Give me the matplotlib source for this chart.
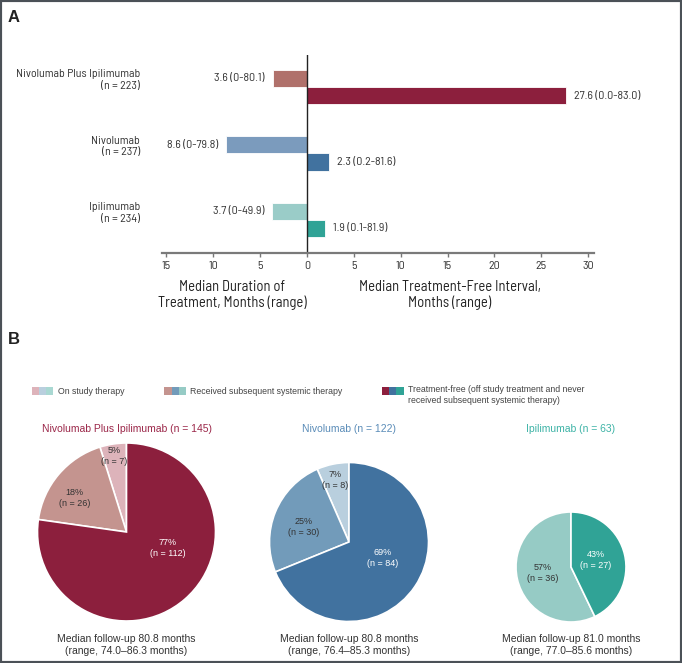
import matplotlib.pyplot as plt
import matplotlib.patches as patches
import numpy as np

W, H = 682, 663

# ---- panel A data ----
groups = ['Nivolumab Plus Ipilimumab\n(n = 223)', 'Nivolumab\n(n = 237)', 'Ipilimumab\n(n = 234)']
duration = [3.6, 8.6, 3.7]
duration_range = ['0-80.1', '0-79.8', '0-49.9']
tfi = [27.6, 2.3, 1.9]
tfi_range = ['0.0-83.0', '0.2-81.6', '0.1-81.9']
x_ticks = [-15, -10, -5, 0, 5, 10, 15, 20, 25, 30]

# ---- panel B data ----
arms = ['Nivolumab Plus Ipilimumab', 'Nivolumab', 'Ipilimumab']
arm_n = [145, 122, 63]
on_study = [7, 8, 0]
received = [26, 30, 36]
treatment_free = [112, 84, 27]
followup_median = [80.8, 80.8, 81.0]
followup_range = ['74.0–86.3', '76.4–85.3', '77.0–85.6']
legend_labels = ['On study therapy',
                 'Received subsequent systemic therapy',
                 'Treatment-free (off study treatment and never\nreceived subsequent systemic therapy)']

# colours
dur_colors = ['#B0716B', '#7B9BBD', '#9ACCC8']
tfi_colors = ['#8C1F3D', '#41729F', '#30A396']
on_colors = ['#DDB3BA', '#B9CFDE', '#A9D8D2']
rec_colors = ['#C4948F', '#729BBA', '#96CBC5']
free_colors = ['#8C1F3D', '#41729F', '#30A396']
title_colors = ['#9B2749', '#5A8CB8', '#3DB3A6']

narrow = ['Barlow Semi Condensed', 'DejaVu Sans']
regular = ['Liberation Sans', 'DejaVu Sans']
small = 8.6

fig = plt.figure(figsize=(W / 100, H / 100), dpi=100)

# ---------------- panel A ----------------
ax = fig.add_axes([162 / W, 1 - 253 / H, 432 / W, 198 / H])
y = np.arange(len(groups))
h = 0.26
ax.barh(y - h / 2, [-d for d in duration], height=h, color=dur_colors,
        edgecolor='white', linewidth=0.6)
ax.barh(y + h / 2, tfi, height=h, color=tfi_colors,
        edgecolor='white', linewidth=0.6)
ax.axvline(0, color='#222222', lw=1)

for i in range(len(groups)):
    ax.annotate(f'{duration[i]} ({duration_range[i]})', xy=(-duration[i], y[i] - h / 2),
                xytext=(-6, 0), textcoords='offset points', ha='right', va='center',
                fontsize=small, family=narrow, color='#333333')
    ax.annotate(f'{tfi[i]} ({tfi_range[i]})', xy=(tfi[i], y[i] + h / 2),
                xytext=(6, 0), textcoords='offset points', ha='left', va='center',
                fontsize=small, family=narrow, color='#333333')

ax.set_xlim(-15.48, 30.63)
ax.set_ylim(2.5, -0.48)
ax.set_xticks(x_ticks)
ax.set_xticklabels([str(abs(t)) for t in x_ticks], fontsize=small, family=narrow, color='#333333')
ax.set_yticks(y - h / 2)
ax.set_yticklabels(groups, fontsize=small, family=narrow, color='#333333')
ax.tick_params(axis='y', length=0, pad=16)
ax.tick_params(axis='x', length=3, width=1, color='#777777', pad=3)
for s in ['top', 'right', 'left']:
    ax.spines[s].set_visible(False)
ax.spines['bottom'].set_color('#7a7a7a')
ax.spines['bottom'].set_linewidth(1.6)

fig.text(232 / W, 1 - 295 / H, 'Median Duration of\nTreatment, Months (range)',
         ha='center', va='center', fontsize=10.5, family=narrow, color='#222222', linespacing=1.1)
fig.text(450 / W, 1 - 295 / H, 'Median Treatment-Free Interval,\nMonths (range)',
         ha='center', va='center', fontsize=10.5, family=narrow, color='#222222', linespacing=1.1)

fig.text(8 / W, 1 - 17 / H, 'A', fontsize=12, fontweight='bold', family=regular,
         color='#222222', va='center')
fig.text(8 / W, 1 - 340 / H, 'B', fontsize=12, fontweight='bold', family=regular,
         color='#222222', va='center')

# ---------------- panel B ----------------
bx = fig.add_axes([0, 0, 1, 1])
centers = [(126.5, 532), (349, 542), (571, 567)]
radii = [89, 79.5, 55]
label_pos = [[(-0.14, 0.85), (-0.58, 0.38), (0.46, -0.18)],
             [(-0.17, 0.78), (-0.57, 0.19), (0.42, -0.20)],
             [(-0.52, -0.11), (0.45, 0.13)]]

for i in range(len(arms)):
    counts = [on_study[i], received[i], treatment_free[i]]
    cols = [on_colors[i], rec_colors[i], free_colors[i]]
    keep = [k for k in range(3) if counts[k] > 0]
    vals = [counts[k] for k in keep]
    cx, cy = centers[i]
    r = radii[i]
    bx.pie(vals, colors=[cols[k] for k in keep], startangle=90,
           center=(cx, H - cy), radius=r,
           wedgeprops=dict(edgecolor='white', linewidth=1.2))
    for j, k in enumerate(keep):
        pct = round(100 * counts[k] / arm_n[i])
        dx, dy = label_pos[i][j]
        tc = 'white' if k == 2 else '#333333'
        bx.text(cx + dx * r, H - cy + dy * r, f'{pct}%\n(n = {counts[k]})',
                ha='center', va='center', fontsize=6.5, family=regular, color=tc,
                linespacing=1.3)
    bx.text(cx, H - 429, f'{arms[i]} (n = {arm_n[i]})', ha='center', va='center',
            fontsize=7.5, family=regular, color=title_colors[i])
    bx.text(cx, H - 645, f'Median follow-up {followup_median[i]} months\n(range, {followup_range[i]} months)',
            ha='center', va='center', fontsize=7.5, family=regular, color='#333333',
            linespacing=1.3)

# legend built from stripes
leg_x = [31.5, 164.3, 382]
leg_sets = [on_colors, rec_colors, free_colors]
for li in range(3):
    for s, c in enumerate(leg_sets[li]):
        bx.add_patch(patches.Rectangle((leg_x[li] + s * 7.2, H - 395), 7.2, 8,
                                       facecolor=c, edgecolor='none'))
    if '\n' in legend_labels[li]:
        bx.text(leg_x[li] + 26, H - 385.5, legend_labels[li], ha='left', va='top',
                fontsize=6.3, family=regular, color='#444444', linespacing=1.15)
    else:
        bx.text(leg_x[li] + 26, H - 391, legend_labels[li], ha='left', va='center',
                fontsize=6.3, family=regular, color='#444444')

bx.set_xlim(0, W)
bx.set_ylim(0, H)
bx.set_aspect('auto')
bx.axis('off')

# outer frame
fig.patches.append(patches.Rectangle((0, 0), 1, 1, transform=fig.transFigure,
                                     fill=False, edgecolor='#4B5157', linewidth=3))

fig.savefig('out.png', dpi=100, facecolor='white')
